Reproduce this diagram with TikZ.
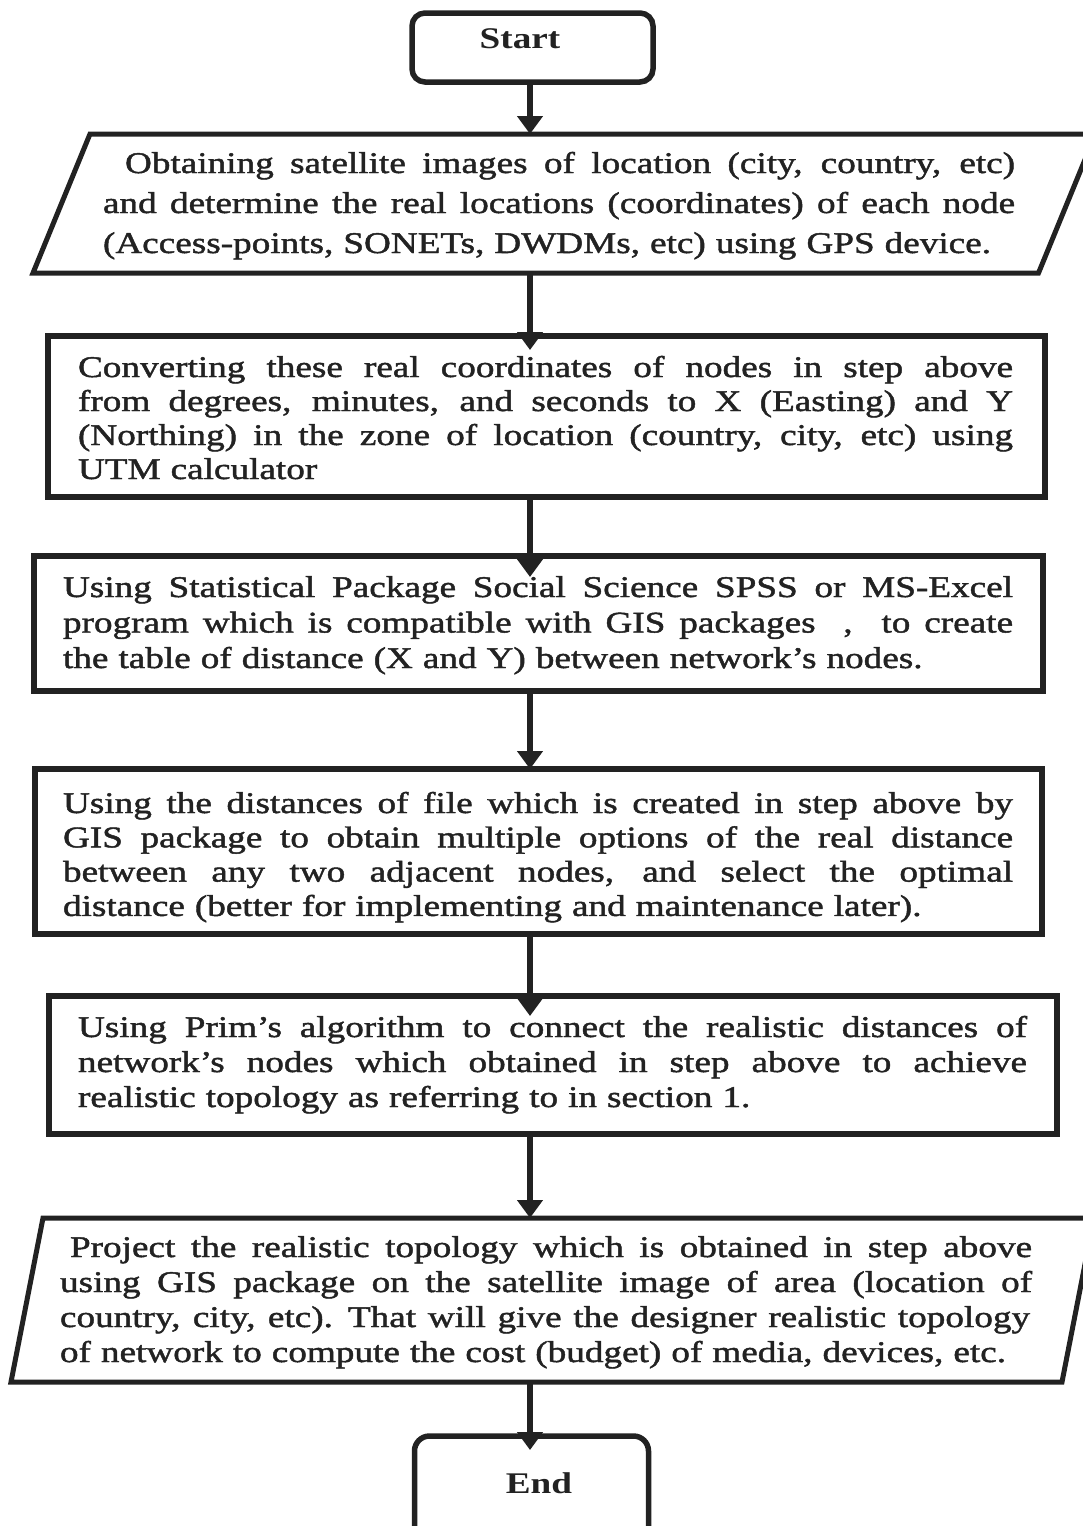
\documentclass[tikz,border=0pt]{standalone}
\usepackage{fontspec}
\setmainfont{Liberation Serif}[FakeStretch=1.24]
\newfontfamily\bodyfont{Liberation Serif}[FakeStretch=1.24,FakeBold=1.5]
\usetikzlibrary{arrows.meta}
\definecolor{ink}{HTML}{222222}
\newcommand\fl[2]{\leavevmode\hbox to #1{\spaceskip=\fontdimen2\font plus 1fil\relax #2}\\}
\begin{document}
\begin{tikzpicture}[x=1pt,y=-1pt,
  box/.style={draw=ink, line width=6pt, rectangle, inner sep=0pt, outer sep=0pt},
  paraframe/.style={rectangle, inner sep=0pt, outer sep=0pt},
  pline/.style={draw=ink, line width=5pt, line join=miter},
  terminal/.style={draw=ink, line width=5.5pt, rounded corners=13pt, rectangle, inner sep=0pt, outer sep=0pt},
  termtext/.style={font=\fontsize{30}{36}\selectfont\bfseries, text=ink, inner sep=0pt, anchor=base},
  body/.style={inner sep=0pt, outer sep=0pt, anchor=north west, text=ink},
  arr/.style={draw=ink, line width=6pt, -{Triangle[length=18pt,width=25pt]}},
]
\useasboundingbox (0,0) rectangle (1083,1526);
\clip (0,0) rectangle (1083,1526);
\fill[white] (0,0) rectangle (1083,1526);
\coordinate (spine) at (530,0);

% Start
\node[terminal, minimum width=241pt, minimum height=69pt] (start) at (532.5,47.5) {};
\node[termtext] (starttxt) at (520,48) {Start};

% Parallelogram 1
\node[paraframe, minimum width=1005.5pt, minimum height=139pt] (p1) at (564.25,203.5) {};
\draw[pline] ([xshift=28.5pt]p1.north west) -- ([xshift=28.5pt]p1.north east)
  -- ([xshift=-28.5pt]p1.south east) -- ([xshift=-28.5pt]p1.south west) -- cycle;
\node[body, text width=912pt, font={\bodyfont\fontsize{30}{40}\selectfont}] (t1) at (103,145) {\strut\hspace*{22pt}\fl{890pt}{Obtaining satellite images of location (city, country, etc)}\fl{912pt}{and determine the real locations (coordinates) of each node}(Access-points, SONETs, DWDMs, etc) using GPS device.};

% Box 2
\node[box, minimum width=997pt, minimum height=160.5pt] (b2) at (546.5,416.25) {};
\node[body, text width=935pt, font={\bodyfont\fontsize{30}{34}\selectfont}] (t2) at (78,353.2) {\strut\fl{935pt}{Converting these real coordinates of nodes in step above}\fl{935pt}{from degrees, minutes, and seconds to X (Easting) and Y}\fl{935pt}{(Northing) in the zone of location (country, city, etc) using}UTM calculator};

% Box 3
\node[box, minimum width=1009pt, minimum height=135pt] (b3) at (538.5,623.5) {};
\node[body, text width=950pt, font={\bodyfont\fontsize{30}{35.5}\selectfont}] (t3) at (63,572.15) {\strut\fl{950pt}{Using Statistical Package Social Science SPSS or MS-Excel}\fl{950pt}{program which is compatible with GIS packages \ , \ to create}the table of distance (X and Y) between network’s nodes.};

% Box 4
\node[box, minimum width=1007.5pt, minimum height=164.5pt] (b4) at (538.25,851.25) {};
\node[body, text width=950pt, font={\bodyfont\fontsize{30}{34.3}\selectfont}] (t4) at (63,789) {\strut\fl{950pt}{Using the distances of file which is created in step above by}\fl{950pt}{GIS package to obtain multiple options of the real distance}\fl{950pt}{between any two adjacent nodes, and select the optimal}distance (better for implementing and maintenance later).};

% Box 5
\node[box, minimum width=1008.5pt, minimum height=138pt] (b5) at (552.75,1065) {};
\node[body, text width=949pt, font={\bodyfont\fontsize{30}{35}\selectfont}] (t5) at (78,1012.5) {\strut\fl{949pt}{Using Prim’s algorithm to connect the realistic distances of}\fl{949pt}{network’s nodes which obtained in step above to achieve}realistic topology as referring to in section 1.};

% Parallelogram 2
\node[paraframe, minimum width=1051pt, minimum height=164pt] (p2) at (552.5,1300) {};
\draw[pline] ([xshift=16pt]p2.north west) -- ([xshift=16pt]p2.north east)
  -- ([xshift=-16pt]p2.south east) -- ([xshift=-16pt]p2.south west) -- cycle;
\node[body, text width=972pt, font={\bodyfont\fontsize{30}{35}\selectfont}] (t6) at (60,1232.5) {\strut\hspace*{10pt}\fl{962pt}{Project the realistic topology which is obtained in step above}\fl{972pt}{using GIS package on the satellite image of area (location of}\fl{970pt}{country, city, etc). That will give the designer realistic topology}of network to compute the cost (budget) of media, devices, etc.};

% End
\node[terminal, rounded corners=15pt, minimum width=234pt, minimum height=144pt] (end) at (531.5,1508) {};
\node[termtext] (endtxt) at (539,1493) {End};

% Connectors
\draw[arr] (start.south -| spine) -- (p1.north -| spine);
\draw[arr, shorten >=-14pt] (p1.south -| spine) -- (b2.north -| spine);
\draw[arr, shorten >=-21pt] (b2.south -| spine) -- (b3.north -| spine);
\draw[arr] (b3.south -| spine) -- (b4.north -| spine);
\draw[arr, shorten >=-20pt] (b4.south -| spine) -- (b5.north -| spine);
\draw[arr] (b5.south -| spine) -- (p2.north -| spine);
\draw[arr, shorten >=-14pt] (p2.south -| spine) -- (end.north -| spine);
\end{tikzpicture}
\end{document}
